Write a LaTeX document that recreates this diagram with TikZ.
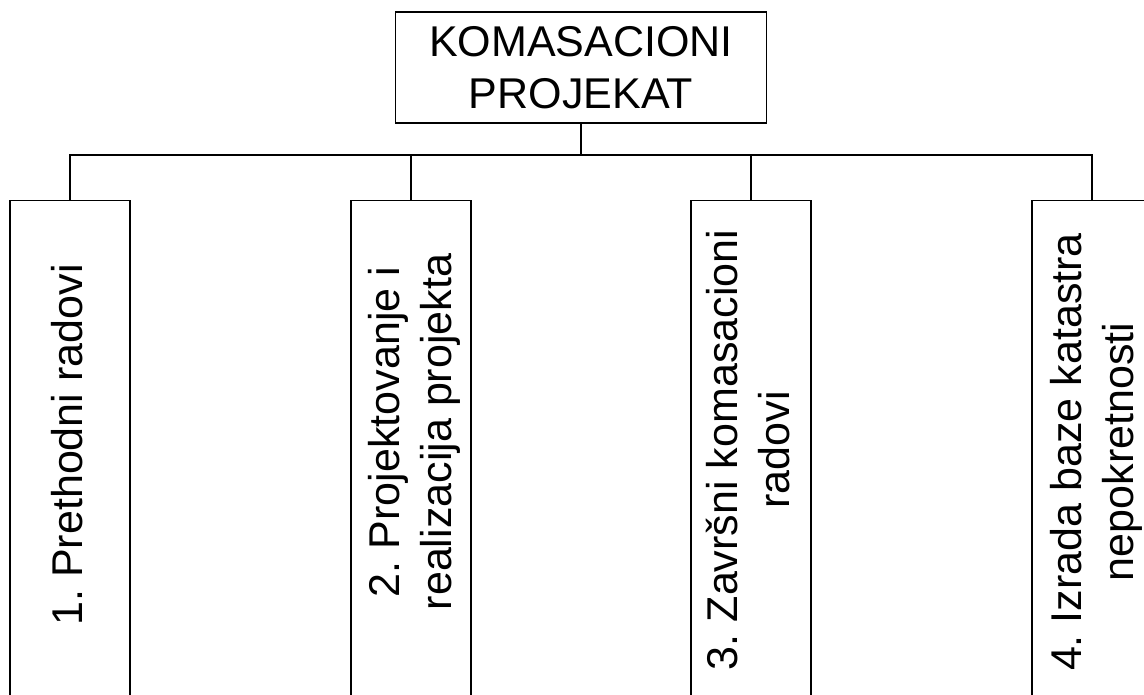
\documentclass[tikz,border=0pt]{standalone}
\usepackage{fontspec}
\setmainfont{Liberation Sans}
\usepackage{tikz}
\frenchspacing

\begin{document}
\begin{tikzpicture}[x=0.02cm, y=-0.02cm,
  box/.style={draw, line width=0.6pt, inner sep=0pt},
  stage/.style={draw, line width=0.6pt, minimum width=2.4cm, minimum height=10.4cm, anchor=north},
  stagetext/.style={rotate=90, align=center, inner sep=0pt, font=\fontsize{24.5}{29.5}\selectfont},
  link/.style={line width=0.6pt}]
  % Frame
  \useasboundingbox (0,0) rectangle (1144,695);
  \clip (0,0) rectangle (1144,695);

  % Top box
  \node[box, minimum width=7.44cm, minimum height=2.22cm, align=center,
        font=\fontsize{24.5}{29.5}\selectfont] (proj) at (581,67.5) {KOMASACIONI\\PROJEKAT};

  % Stage boxes (open below the frame)
  \node[stage] (b1) at (70,200) {};
  \node[stage] (b2) at (411,200) {};
  \node[stage] (b3) at (751,200) {};
  \node[stage] (b4) at (1092,200) {};

  % Stage labels
  \node[stagetext] (t1) at (67,445) {1. Prethodni radovi};
  \node[stagetext] (t2) at (414,432) {2. Projektovanje i\\realizacija projekta};
  \node[stagetext] (t3) at (748,450) {3. Završni komasacioni\\radovi};
  \node[stagetext] (t4) at (1096,452) {4. Izrada baze katastra\\nepokretnosti};

  % Connectors
  \coordinate (bus) at (581,155);
  \draw[link] (proj.south) -- (bus);
  \foreach \i in {1,...,4}
    \draw[link] (bus) -| (b\i.north);
\end{tikzpicture}
\end{document}
